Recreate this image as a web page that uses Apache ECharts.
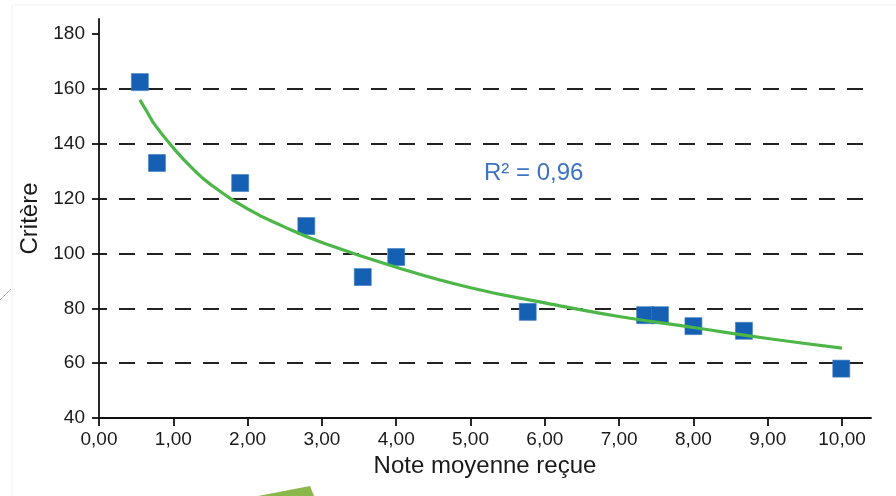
<!DOCTYPE html>
<html>
<head>
<meta charset="utf-8">
<script src="https://cdn.jsdelivr.net/npm/echarts@6/dist/echarts.min.js"></script>
<style>
  html, body { margin: 0; padding: 0; background: #fff; }
  #chart { width: 896px; height: 496px; }
</style>
</head>
<body>
<div id="chart"></div>
<script>
// points
const notes = [0.55, 0.78, 1.9, 2.79, 3.55, 4.0, 5.77, 7.35, 7.55, 8.0, 8.68, 9.99];
const criteres = [162.5, 133, 125.7, 110, 91.4, 98.7, 78.7, 77.5, 77.5, 73.5, 71.8, 58];

// green trend curve, read at a few x positions
const trendX = [0.55, 0.65, 0.75, 1, 1.25, 1.5, 2, 2.5, 3, 4, 5, 6, 7, 8, 9, 10];
const trendY = [156, 151.5, 147, 138.5, 131.2, 125.2, 116.3, 109.6, 104, 95, 87.5, 82, 77, 73, 69, 65.5];

const xTicks = [0, 1, 2, 3, 4, 5, 6, 7, 8, 9, 10];
const yTicks = [40, 60, 80, 100, 120, 140, 160, 180];
const r2Text = 'R² = 0,96';

const font = '"Liberation Sans", Arial, sans-serif';
const chart = echarts.init(document.getElementById('chart'));

chart.setOption({
  animation: false,
  backgroundColor: '#fff',
  grid: { left: 99, right: 25, top: 19, bottom: 78 },
  xAxis: {
    type: 'value',
    min: 0,
    max: 10.39,
    interval: 1,
    name: 'Note moyenne reçue',
    nameLocation: 'middle',
    nameGap: 36,
    nameTextStyle: { fontFamily: font, fontSize: 24, color: '#1a1a1a' },
    axisLine: { onZero: false, lineStyle: { color: '#111', width: 1.8 } },
    axisTick: { show: true, length: 8, customValues: xTicks, lineStyle: { color: '#111', width: 1.8 } },
    axisLabel: {
      customValues: xTicks,
      margin: 12,
      fontFamily: font, fontSize: 19, color: '#1a1a1a',
      formatter: v => v.toFixed(2).replace('.', ',')
    },
    splitLine: { show: false }
  },
  yAxis: {
    type: 'value',
    min: 40,
    max: 185.5,
    interval: 20,
    name: 'Critère',
    nameLocation: 'middle',
    nameGap: 56,
    nameRotate: 90,
    nameTextStyle: { fontFamily: font, fontSize: 24, color: '#1a1a1a' },
    axisLine: { show: true, onZero: false, lineStyle: { color: '#111', width: 1.8 } },
    axisTick: { show: true, length: 7, customValues: yTicks, lineStyle: { color: '#111', width: 1.8 } },
    axisLabel: {
      customValues: yTicks,
      margin: 14,
      fontFamily: font, fontSize: 19, color: '#1a1a1a'
    },
    splitLine: {
      show: true,
      showMinLine: false,
      showMaxLine: false,
      lineStyle: { color: '#222', width: 2, type: [16, 12], dashOffset: 8 }
    }
  },
  series: [
    {
      type: 'scatter',
      data: notes.map((x, i) => [x, criteres[i]]),
      symbol: 'rect',
      symbolSize: 17,
      itemStyle: { color: '#1560b2', opacity: 1, borderColor: '#3d7cc4', borderWidth: 0.6 },
      z: 2
    },
    {
      type: 'line',
      data: trendX.map((x, i) => [x, trendY[i]]),
      smooth: 0.5,
      showSymbol: false,
      lineStyle: { color: '#4cb748', width: 3.2 },
      z: 3
    }
  ],
  graphic: [
    { type: 'text', left: 484, top: 161, style: { text: r2Text, fontFamily: font, fontSize: 24, fill: '#3f74c2' } },
    // faint frame of the scanned figure
    { type: 'line', shape: { x1: 12, y1: 5, x2: 896, y2: 5 }, style: { stroke: '#f2f2f2', lineWidth: 1 } },
    { type: 'line', shape: { x1: 12, y1: 5, x2: 12, y2: 496 }, style: { stroke: '#f2f2f2', lineWidth: 1 } },
    // small mark at left edge
    { type: 'line', shape: { x1: 0, y1: 300, x2: 11, y2: 289 }, style: { stroke: '#777', lineWidth: 1, lineDash: [1, 1] } },
    // green shape cut at the bottom
    { type: 'polygon', shape: { points: [[258, 496], [310, 486], [314, 496]] }, style: { fill: '#8bb84b' } }
  ]
});
</script>
</body>
</html>
